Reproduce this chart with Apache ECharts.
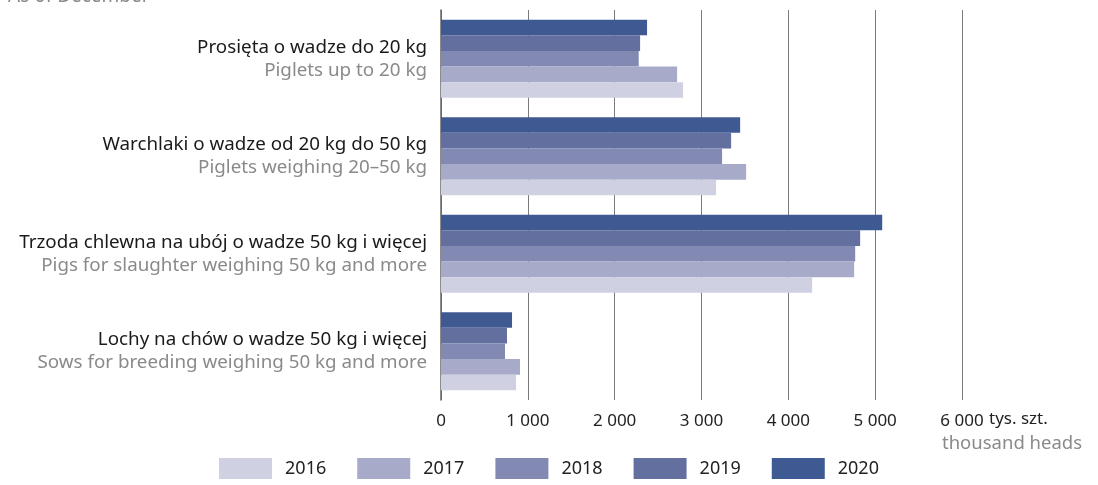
<!DOCTYPE html>
<html>
<head>
<meta charset="utf-8">
<script src="https://cdn.jsdelivr.net/npm/echarts@6/dist/echarts.min.js"></script>
<style>
html,body{margin:0;padding:0;background:#fff;}
#c{width:1098px;height:485px;}
</style>
</head>
<body>
<div id="c"></div>
<script>
const categoriesPl = ['Prosięta o wadze do 20 kg', 'Warchlaki o wadze od 20 kg do 50 kg', 'Trzoda chlewna na ubój o wadze 50 kg i więcej', 'Lochy na chów o wadze 50 kg i więcej'];
const categoriesEn = ['Piglets up to 20 kg', 'Piglets weighing 20–50 kg', 'Pigs for slaughter weighing 50 kg and more', 'Sows for breeding weighing 50 kg and more'];
const years = ['2016', '2017', '2018', '2019', '2020'];
const v2016 = [2788, 3168, 4274, 864];
const v2017 = [2719, 3514, 4758, 910];
const v2018 = [2277, 3237, 4770, 737];
const v2019 = [2293, 3341, 4827, 760];
const v2020 = [2373, 3445, 5081, 818];
const xTicks = [0, 1000, 2000, 3000, 4000, 5000, 6000];
const colors = ['#cfd1e3', '#a7abc9', '#8289b3', '#63709f', '#3f5a92'];

const values = [v2016, v2017, v2018, v2019, v2020];
const FONT = 'Noto Sans';
const chart = echarts.init(document.getElementById('c'), null, {renderer: 'canvas'});
const cats = categoriesPl.map((p, i) => p + '\n' + categoriesEn[i]);

// newest year drawn at the top of each group
const series = years.map((y, i) => ({
  name: y,
  type: 'bar',
  data: values[i],
  barGap: '0%',
  barCategoryGap: '20%',
  itemStyle: {color: colors[i]},
  silent: true,
  animation: false
})).reverse();

chart.setOption({
  animation: false,
  textStyle: {fontFamily: FONT},
  grid: {left: 441, right: 136, top: 10, bottom: 85, containLabel: false},
  legend: {
    data: years,
    bottom: 1,
    left: 'center',
    itemWidth: 53,
    itemHeight: 21,
    itemGap: 31,
    icon: 'rect',
    textStyle: {fontFamily: FONT, fontSize: 18, color: '#222', padding: [0, 0, 0, 8]}
  },
  xAxis: {
    type: 'value',
    min: 0,
    max: 6000,
    interval: 1000,
    axisLine: {show: false},
    axisTick: {show: false},
    splitLine: {show: true, lineStyle: {color: '#7a7a7a', width: 1}},
    axisLabel: {
      fontFamily: FONT,
      fontSize: 17,
      color: '#222',
      margin: 13,
      formatter: function (v) { return v === 0 ? '0' : (v / 1000) + ' 000'; }
    }
  },
  yAxis: {
    type: 'category',
    data: cats,
    inverse: true,
    axisLine: {show: true, lineStyle: {color: '#666', width: 1.5}},
    axisTick: {show: false},
    axisLabel: {
      margin: 14,
      formatter: function (v) {
        const p = v.split('\n');
        return '{a|' + p[0] + '}\n{b|' + p[1] + '}';
      },
      rich: {
        a: {fontFamily: FONT, fontSize: 18.8, color: '#1a1a1a', lineHeight: 23, align: 'right'},
        b: {fontFamily: FONT, fontSize: 18.8, color: '#8a8a8a', lineHeight: 23, align: 'right'}
      }
    }
  },
  graphic: [
    {type: 'text', left: 8, top: -13, style: {text: 'As of December', fontFamily: FONT, fontSize: 19, fill: '#8a8a8a'}},
    {type: 'text', left: 989, top: 411, style: {text: 'tys. szt.', fontFamily: FONT, fontSize: 17, fill: '#222'}},
    {type: 'text', left: 942, top: 434, style: {text: 'thousand heads', fontFamily: FONT, fontSize: 18.5, fill: '#8a8a8a'}}
  ],
  series: series
});
</script>
</body>
</html>
